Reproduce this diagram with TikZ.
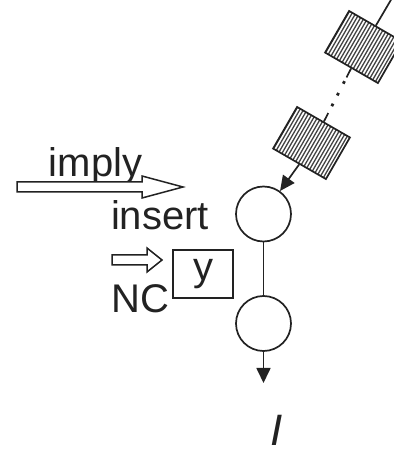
\documentclass[tikz,border=0pt]{standalone}
\usepackage{fontspec}
\setmainfont{Liberation Sans}
\usetikzlibrary{arrows.meta}
\definecolor{ink}{HTML}{222222}
\tikzset{
  label/.style={font=\fontsize{40}{44}\selectfont,text=ink,inner sep=0pt},
  state/.style={circle,draw=ink,line width=1.7pt,minimum size=55pt,inner sep=0pt},
  block/.style={draw=ink,line width=1.7pt,minimum width=61pt,minimum height=48pt,rotate=-30},
  hatch/.style={draw=ink!85,line width=1.3pt},
  slot/.style={draw=ink,line width=1.4pt,minimum width=60pt,minimum height=48pt,inner sep=0pt,
    font=\fontsize{40}{44}\selectfont,text=ink},
  hollow/.style={draw=ink,line width=1.5pt,fill=white,line join=miter},
  link/.style={draw=ink,line width=1.7pt},
  arr/.style={-{Triangle[length=15pt,width=14pt]},draw=ink,line width=1.7pt}
}
\begin{document}
\begin{tikzpicture}[x=1pt,y=1pt]
\path[use as bounding box] (0,0) rectangle (394,453);
% hatching of the blocks
\foreach \cx/\cy in {363.5/406,311.5/310}{
  \begin{scope}[shift={(\cx,\cy)},rotate=-30]
    \clip (-30.5,-24) rectangle (30.5,24);
    \foreach \d in {-30,-26.8,...,31}
      \draw[hatch] (\d,-25)--(\d,25);
  \end{scope}
}
% chain of hatched blocks
\node[block] (b1) at (363.5,406) {};
\node[block] (b2) at (311.5,310) {};
\coordinate (top) at (395,460);
\draw[link] (b1.north)--(top);
\draw[link,dash pattern=on 10pt off 40pt on 20pt] (b1.south)--(b2.north);
\draw[draw=ink,line width=2.8pt,dash pattern=on 0pt off 14.3pt on 2.8pt off 10.4pt on 2.8pt off 9.2pt on 2.8pt off 100pt] (b1.south)--(b2.north);
% states
\node[state] (c1) at (263.5,239) {};
\node[state] (c2) at (263.5,129.5) {};
\coordinate (out) at (263.5,70);
\draw[arr] (b2.south)--(c1);
\draw[link] (c1)--(c2);
\draw[arr] (c2)--(out);
\node[label,font=\fontsize{44}{48}\selectfont\itshape] (seq) at (277,23) {I};
% left labels
\node[label,anchor=base] (imply) at (95.5,276) {imply};
\draw[hollow] (17,261)--(142,261)--(142,255)--(183,266)--(142,277)--(142,271)--(17,271)--cycle;
\node[label,anchor=base] (insert) at (160,223) {insert};
\draw[hollow] (112,188)--(147,188)--(147,181)--(162,193)--(147,205)--(147,198)--(112,198)--cycle;
\node[slot] (y) at (203,179) {y};
\node[label,anchor=base] (nc) at (140.5,140) {NC};
\end{tikzpicture}
\end{document}
